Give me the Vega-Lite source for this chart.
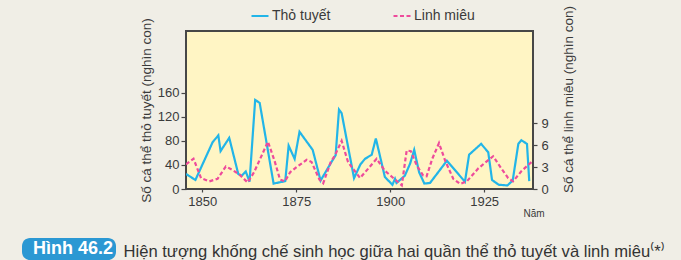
{
  "$schema": "https://vega.github.io/schema/vega-lite/v6.json",
  "width": 347,
  "height": 158,
  "autosize": {"type": "none"},
  "padding": {"left": 186, "top": 31, "right": 148, "bottom": 71},
  "background": "#F0EEE6",
  "config": {
    "font": "Liberation Sans",
    "view": {"fill": "#FFF5C4", "stroke": "#474747", "strokeWidth": 2},
    "axis": {
      "domain": false,
      "grid": false,
      "tickColor": "#474747",
      "tickWidth": 1.2,
      "labelFont": "Liberation Sans",
      "labelFontSize": 13,
      "labelColor": "#3a3a3a",
      "titleFont": "Liberation Sans",
      "titleFontWeight": "normal",
      "titleColor": "#3a3a3a"
    }
  },
  "data": {
    "values": [
      {"nam": 1845.7, "so_luong": 25, "loai": "Thỏ tuyết"},
      {"nam": 1848.2, "so_luong": 15, "loai": "Thỏ tuyết"},
      {"nam": 1852.8, "so_luong": 78, "loai": "Thỏ tuyết"},
      {"nam": 1854.3, "so_luong": 89, "loai": "Thỏ tuyết"},
      {"nam": 1854.9, "so_luong": 63, "loai": "Thỏ tuyết"},
      {"nam": 1857.2, "so_luong": 85, "loai": "Thỏ tuyết"},
      {"nam": 1859.6, "so_luong": 25, "loai": "Thỏ tuyết"},
      {"nam": 1860.5, "so_luong": 22, "loai": "Thỏ tuyết"},
      {"nam": 1861.6, "so_luong": 29, "loai": "Thỏ tuyết"},
      {"nam": 1862.6, "so_luong": 12, "loai": "Thỏ tuyết"},
      {"nam": 1864.1, "so_luong": 148, "loai": "Thỏ tuyết"},
      {"nam": 1865.3, "so_luong": 143, "loai": "Thỏ tuyết"},
      {"nam": 1869.0, "so_luong": 9, "loai": "Thỏ tuyết"},
      {"nam": 1872.1, "so_luong": 13, "loai": "Thỏ tuyết"},
      {"nam": 1873.0, "so_luong": 72, "loai": "Thỏ tuyết"},
      {"nam": 1874.6, "so_luong": 50, "loai": "Thỏ tuyết"},
      {"nam": 1875.9, "so_luong": 95, "loai": "Thỏ tuyết"},
      {"nam": 1879.4, "so_luong": 65, "loai": "Thỏ tuyết"},
      {"nam": 1881.5, "so_luong": 14, "loai": "Thỏ tuyết"},
      {"nam": 1884.6, "so_luong": 47, "loai": "Thỏ tuyết"},
      {"nam": 1885.5, "so_luong": 56, "loai": "Thỏ tuyết"},
      {"nam": 1886.4, "so_luong": 132, "loai": "Thỏ tuyết"},
      {"nam": 1887.1, "so_luong": 126, "loai": "Thỏ tuyết"},
      {"nam": 1890.4, "so_luong": 18, "loai": "Thỏ tuyết"},
      {"nam": 1892.1, "so_luong": 41, "loai": "Thỏ tuyết"},
      {"nam": 1893.3, "so_luong": 50, "loai": "Thỏ tuyết"},
      {"nam": 1895.1, "so_luong": 57, "loai": "Thỏ tuyết"},
      {"nam": 1896.2, "so_luong": 84, "loai": "Thỏ tuyết"},
      {"nam": 1898.6, "so_luong": 20, "loai": "Thỏ tuyết"},
      {"nam": 1900.6, "so_luong": 7, "loai": "Thỏ tuyết"},
      {"nam": 1901.3, "so_luong": 17, "loai": "Thỏ tuyết"},
      {"nam": 1901.7, "so_luong": 10, "loai": "Thỏ tuyết"},
      {"nam": 1903.9, "so_luong": 22, "loai": "Thỏ tuyết"},
      {"nam": 1905.3, "so_luong": 42, "loai": "Thỏ tuyết"},
      {"nam": 1906.4, "so_luong": 65, "loai": "Thỏ tuyết"},
      {"nam": 1907.7, "so_luong": 28, "loai": "Thỏ tuyết"},
      {"nam": 1909.1, "so_luong": 9, "loai": "Thỏ tuyết"},
      {"nam": 1910.6, "so_luong": 10, "loai": "Thỏ tuyết"},
      {"nam": 1912.8, "so_luong": 28, "loai": "Thỏ tuyết"},
      {"nam": 1915.1, "so_luong": 47, "loai": "Thỏ tuyết"},
      {"nam": 1919.9, "so_luong": 12, "loai": "Thỏ tuyết"},
      {"nam": 1921.0, "so_luong": 57, "loai": "Thỏ tuyết"},
      {"nam": 1924.2, "so_luong": 75, "loai": "Thỏ tuyết"},
      {"nam": 1926.1, "so_luong": 61, "loai": "Thỏ tuyết"},
      {"nam": 1927.1, "so_luong": 15, "loai": "Thỏ tuyết"},
      {"nam": 1928.9, "so_luong": 7, "loai": "Thỏ tuyết"},
      {"nam": 1931.2, "so_luong": 6, "loai": "Thỏ tuyết"},
      {"nam": 1932.6, "so_luong": 14, "loai": "Thỏ tuyết"},
      {"nam": 1934.1, "so_luong": 75, "loai": "Thỏ tuyết"},
      {"nam": 1934.9, "so_luong": 81, "loai": "Thỏ tuyết"},
      {"nam": 1936.4, "so_luong": 75, "loai": "Thỏ tuyết"},
      {"nam": 1937.0, "so_luong": 13, "loai": "Thỏ tuyết"},
      {"nam": 1845.7, "so_luong": 3.4, "loai": "Linh miêu"},
      {"nam": 1847.7, "so_luong": 4.15, "loai": "Linh miêu"},
      {"nam": 1849.7, "so_luong": 1.5, "loai": "Linh miêu"},
      {"nam": 1851.9, "so_luong": 1.05, "loai": "Linh miêu"},
      {"nam": 1854.1, "so_luong": 1.4, "loai": "Linh miêu"},
      {"nam": 1856.3, "so_luong": 3.1, "loai": "Linh miêu"},
      {"nam": 1858.1, "so_luong": 2.6, "loai": "Linh miêu"},
      {"nam": 1859.9, "so_luong": 2.0, "loai": "Linh miêu"},
      {"nam": 1862.1, "so_luong": 0.9, "loai": "Linh miêu"},
      {"nam": 1863.8, "so_luong": 2.3, "loai": "Linh miêu"},
      {"nam": 1867.5, "so_luong": 6.5, "loai": "Linh miêu"},
      {"nam": 1869.3, "so_luong": 3.8, "loai": "Linh miêu"},
      {"nam": 1870.7, "so_luong": 1.3, "loai": "Linh miêu"},
      {"nam": 1872.0, "so_luong": 1.05, "loai": "Linh miêu"},
      {"nam": 1873.4, "so_luong": 2.3, "loai": "Linh miêu"},
      {"nam": 1875.1, "so_luong": 3.0, "loai": "Linh miêu"},
      {"nam": 1877.8, "so_luong": 4.0, "loai": "Linh miêu"},
      {"nam": 1879.1, "so_luong": 3.7, "loai": "Linh miêu"},
      {"nam": 1881.2, "so_luong": 1.3, "loai": "Linh miêu"},
      {"nam": 1882.2, "so_luong": 0.8, "loai": "Linh miêu"},
      {"nam": 1884.2, "so_luong": 3.7, "loai": "Linh miêu"},
      {"nam": 1885.3, "so_luong": 4.6, "loai": "Linh miêu"},
      {"nam": 1887.1, "so_luong": 6.6, "loai": "Linh miêu"},
      {"nam": 1888.8, "so_luong": 3.7, "loai": "Linh miêu"},
      {"nam": 1892.0, "so_luong": 1.5, "loai": "Linh miêu"},
      {"nam": 1896.4, "so_luong": 4.15, "loai": "Linh miêu"},
      {"nam": 1898.6, "so_luong": 2.5, "loai": "Linh miêu"},
      {"nam": 1903.1, "so_luong": 0.5, "loai": "Linh miêu"},
      {"nam": 1904.4, "so_luong": 5.3, "loai": "Linh miêu"},
      {"nam": 1905.5, "so_luong": 5.2, "loai": "Linh miêu"},
      {"nam": 1907.1, "so_luong": 3.2, "loai": "Linh miêu"},
      {"nam": 1908.8, "so_luong": 1.85, "loai": "Linh miêu"},
      {"nam": 1909.7, "so_luong": 1.75, "loai": "Linh miêu"},
      {"nam": 1911.2, "so_luong": 4.15, "loai": "Linh miêu"},
      {"nam": 1913.0, "so_luong": 6.3, "loai": "Linh miêu"},
      {"nam": 1914.7, "so_luong": 3.8, "loai": "Linh miêu"},
      {"nam": 1916.8, "so_luong": 1.4, "loai": "Linh miêu"},
      {"nam": 1918.6, "so_luong": 0.7, "loai": "Linh miêu"},
      {"nam": 1920.4, "so_luong": 1.05, "loai": "Linh miêu"},
      {"nam": 1923.4, "so_luong": 2.8, "loai": "Linh miêu"},
      {"nam": 1925.7, "so_luong": 3.8, "loai": "Linh miêu"},
      {"nam": 1927.4, "so_luong": 4.5, "loai": "Linh miêu"},
      {"nam": 1929.6, "so_luong": 2.8, "loai": "Linh miêu"},
      {"nam": 1931.4, "so_luong": 1.5, "loai": "Linh miêu"},
      {"nam": 1932.7, "so_luong": 1.05, "loai": "Linh miêu"},
      {"nam": 1935.0, "so_luong": 2.5, "loai": "Linh miêu"},
      {"nam": 1937.6, "so_luong": 3.7, "loai": "Linh miêu"}
    ]
  },
  "layer": [
    {
      "transform": [{"filter": "datum.loai === 'Thỏ tuyết'"}],
      "mark": {"type": "line", "clip": true},
      "encoding": {
        "x": {
          "field": "nam", "type": "quantitative",
          "scale": {"domain": [1845.7, 1938], "nice": false, "zero": false},
          "axis": {
            "values": [1850, 1875, 1900, 1925], "format": "d",
            "tickSize": 3, "labelPadding": 3,
            "title": "Năm", "titleFontSize": 10, "titleX": 347.5, "titleY": 24,
            "titleAlign": "center", "titleBaseline": "middle"
          }
        },
        "y": {
          "field": "so_luong", "type": "quantitative",
          "scale": {"domain": [0, 262.5], "nice": false},
          "axis": {
            "values": [0, 40, 80, 120, 160],
            "tickSize": 5, "labelPadding": 2,
            "title": "Số cá thể thỏ tuyết (nghìn con)", "titleFontSize": 13.5,
            "titleX": -40, "titleY": 79, "titleAngle": -90,
            "titleAlign": "center", "titleBaseline": "middle"
          }
        },
        "color": {
          "field": "loai", "type": "nominal",
          "scale": {"domain": ["Thỏ tuyết", "Linh miêu"], "range": ["#22B5E8", "#EE4B9B"]},
          "legend": {
            "title": null, "orient": "none", "direction": "horizontal",
            "legendX": 64, "legendY": -25,
            "symbolType": "stroke", "symbolSize": 289, "symbolStrokeWidth": 2.2,
            "labelFontSize": 14, "labelColor": "#3a3a3a", "labelOffset": 2,
            "columnPadding": 58
          }
        },
        "strokeDash": {
          "field": "loai", "type": "nominal",
          "scale": {"domain": ["Thỏ tuyết", "Linh miêu"], "range": [[1, 0], [4, 2.5]]},
          "legend": {
            "title": null, "orient": "none", "direction": "horizontal",
            "legendX": 64, "legendY": -25,
            "symbolType": "stroke", "symbolSize": 289, "symbolStrokeWidth": 2.2,
            "labelFontSize": 14, "labelColor": "#3a3a3a", "labelOffset": 2,
            "columnPadding": 58
          }
        },
        "strokeWidth": {
          "datum": "Hình 46.2", "type": "nominal",
          "scale": {"range": [2.2, 2.2]},
          "legend": {
            "title": "Hình 46.2 ", "orient": "none", "legendX": -164, "legendY": 207,
            "titleOrient": "right", "fillColor": "#2B98D3", "cornerRadius": 8,
            "padding": 2, "titlePadding": 0,
            "titleColor": "#FFFFFF", "titleFontSize": 18, "titleFontWeight": "bold",
            "titleFont": "Liberation Sans",
            "symbolSize": 0, "symbolOpacity": 0, "symbolStrokeWidth": 0,
            "labelExpr": "''", "labelFontSize": 18, "labelOpacity": 0, "labelOffset": -9
          }
        }
      }
    },
    {
      "transform": [{"filter": "datum.loai === 'Linh miêu'"}],
      "mark": {"type": "line", "clip": true, "strokeWidth": 2.2},
      "encoding": {
        "x": {
          "field": "nam", "type": "quantitative",
          "scale": {"domain": [1845.7, 1938], "nice": false, "zero": false},
          "axis": {
            "orient": "bottom", "domain": false, "ticks": false, "labels": false, "grid": false,
            "title": "Hiện tượng khống chế sinh học giữa hai quần thể thỏ tuyết và linh miêu⁽*⁾",
            "titleFontSize": 16.6, "titleColor": "#333333",
            "titleX": -63, "titleY": 67, "titleAlign": "left", "titleBaseline": "alphabetic", "titleAngle": 0
          }
        },
        "y": {
          "field": "so_luong", "type": "quantitative",
          "scale": {"domain": [0, 21.7], "nice": false},
          "axis": {
            "orient": "right",
            "values": [0, 3, 6, 9],
            "tickSize": 4, "labelPadding": 4,
            "title": "Số cá thể linh miêu (nghìn con)", "titleFontSize": 13.5,
            "titleX": 35, "titleY": 68, "titleAngle": -90,
            "titleAlign": "center", "titleBaseline": "middle"
          }
        },
        "color": {"field": "loai", "type": "nominal"},
        "strokeDash": {"field": "loai", "type": "nominal"}
      }
    }
  ],
  "resolve": {"scale": {"y": "independent", "x": "independent"}}
}
